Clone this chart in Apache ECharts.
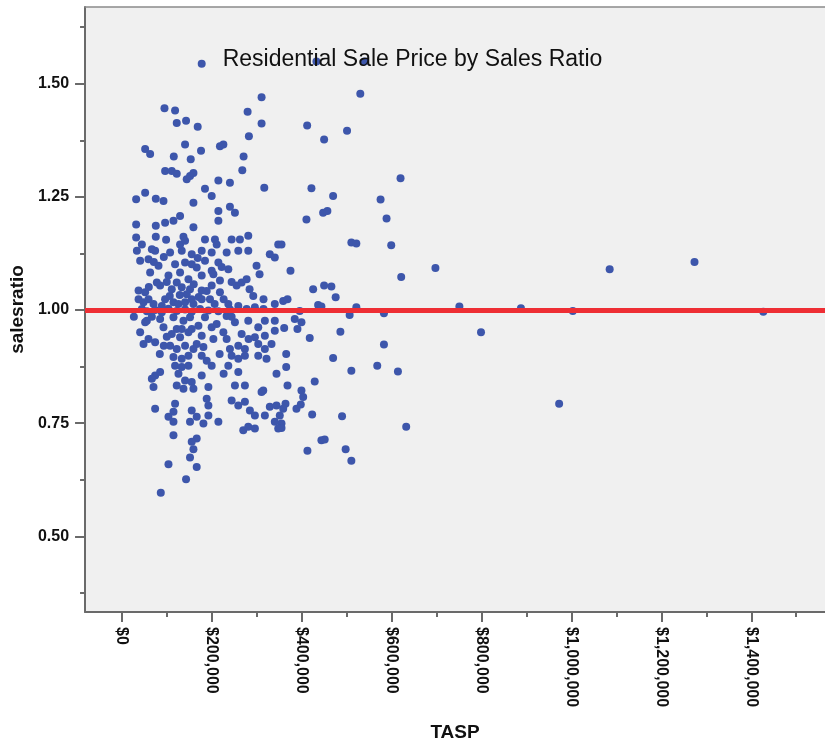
<!DOCTYPE html>
<html><head><meta charset="utf-8">
<script src="https://cdn.jsdelivr.net/npm/echarts@6/dist/echarts.min.js"></script>
<style>html,body{margin:0;padding:0;background:#fff}#c{width:825px;height:747px}</style>
</head><body><div id="c"></div><script>
// ---- data ----
const upperTasp = [177500, 94700, 118300, 122000, 142700, 168600, 279600, 310700, 310700, 282500,
  51700, 62800, 140500, 218100, 225700, 115400, 176000, 153100, 270700, 267800,
  316700, 96100, 111000, 122000, 144200, 151600, 159100, 214600, 240300, 184800,
  199700, 31700, 51700, 75400, 92500, 159100, 214600, 240300, 251400, 31700,
  75400, 96100, 114700, 129400, 159100, 214600, 31700, 75400, 98300, 136900,
  184800, 207000, 262500, 281100, 347700, 432700, 539900, 530300, 412100, 500800,
  449800, 619800, 421600, 469800, 575400, 447600, 457100, 410500, 588700];
const upperRatio = [1.544, 1.446, 1.441, 1.413, 1.418, 1.405, 1.438, 1.470, 1.412, 1.384,
  1.356, 1.345, 1.366, 1.362, 1.366, 1.339, 1.352, 1.333, 1.339, 1.309,
  1.270, 1.307, 1.307, 1.301, 1.289, 1.296, 1.303, 1.286, 1.281, 1.268,
  1.252, 1.245, 1.259, 1.246, 1.241, 1.237, 1.219, 1.228, 1.215, 1.189,
  1.186, 1.193, 1.197, 1.208, 1.183, 1.197, 1.160, 1.162, 1.155, 1.162,
  1.156, 1.156, 1.156, 1.164, 1.145, 1.549, 1.549, 1.478, 1.408, 1.396,
  1.377, 1.291, 1.269, 1.252, 1.244, 1.215, 1.219, 1.200, 1.202];
const outerTasp = [355000, 510400, 521500, 599100, 375000, 697400, 621300, 425400, 449800, 466000,
  475500, 358800, 368400, 436500, 443800, 395600, 521500, 750700, 887600, 506600,
  582900, 384500, 399400, 361000, 390500, 417800, 486000, 798800, 582900, 365500,
  469800, 365500, 510400, 568000, 614000, 368400, 428900, 399400, 403200, 363900,
  358800, 388300, 397900, 423200, 489700, 355000, 355000, 632400, 443800, 451100,
  972600, 412700, 497700, 510400, 1003000, 1085000, 1273700, 1426800];
const outerRatio = [1.145, 1.149, 1.147, 1.143, 1.087, 1.093, 1.073, 1.046, 1.054, 1.052,
  1.028, 1.020, 1.024, 1.011, 1.008, 0.998, 1.006, 1.008, 1.004, 0.989,
  0.993, 0.980, 0.973, 0.960, 0.958, 0.938, 0.952, 0.951, 0.924, 0.903,
  0.894, 0.874, 0.866, 0.877, 0.864, 0.833, 0.842, 0.822, 0.808, 0.793,
  0.782, 0.782, 0.791, 0.769, 0.765, 0.749, 0.739, 0.742, 0.712, 0.714,
  0.793, 0.689, 0.692, 0.667, 0.998, 1.090, 1.106, 0.996];
const coreTasp = [33300, 59200, 73900, 107200, 133100, 155300, 177500, 199700, 233000, 258900,
  281100, 329000, 340100, 81400, 118300, 140500, 166400, 184800, 214600, 236700,
  299500, 40600, 199700, 62800, 103600, 129400, 148000, 177500, 203500, 218100,
  255200, 266300, 277400, 37100, 51700, 85000, 122000, 133100, 151500, 177500,
  199700, 218100, 77700, 292200, 340100, 37100, 48100, 59200, 70300, 96100,
  114700, 125800, 140500, 159100, 177500, 195900, 236700, 258900, 295800, 44400,
  55500, 73900, 88800, 103600, 122000, 140500, 155300, 173700, 192400, 214600,
  240300, 85000, 114700, 136900, 151500, 184800, 233000, 251400, 281100, 318000,
  340100, 51700, 92500, 122000, 133100, 170200, 199700, 225700, 303300, 40600,
  59200, 73900, 110900, 129400, 148000, 177500, 203500, 266300, 295800, 318000,
  340100, 48100, 107200, 122000, 140500, 159100, 181300, 240300, 258900, 273600,
  303300, 318000, 114700, 133100, 148000, 177500, 199700, 244100, 258900, 273600,
  303300, 321700, 118300, 133100, 148000, 236700, 258900, 73900, 66600, 85000,
  125800, 140500, 155300, 177500, 122000, 136900, 159100, 192400, 273600, 314400,
  343900, 251400, 70300, 73900, 118300, 114700, 155300, 188600, 192400, 192400,
  244100, 258900, 273600, 284700, 295800, 329000, 343900, 310600, 103600, 114700,
  151500, 166400, 181300, 214600, 270000, 281100, 340100, 351200, 114700, 166400,
  155300, 295800, 347700, 318000, 159100, 151500, 103600, 166400, 142700, 86500,
  44400, 66600, 129400, 140500, 210800, 244100];
const coreRatio = [1.131, 1.112, 1.131, 1.127, 1.131, 1.123, 1.131, 1.127, 1.127, 1.131,
  1.131, 1.123, 1.116, 1.098, 1.101, 1.105, 1.094, 1.109, 1.105, 1.090,
  1.098, 1.109, 1.087, 1.083, 1.076, 1.083, 1.068, 1.076, 1.079, 1.065,
  1.054, 1.061, 1.068, 1.043, 1.039, 1.054, 1.061, 1.050, 1.046, 1.043,
  1.054, 1.039, 1.061, 1.031, 1.013, 1.024, 1.017, 1.024, 1.013, 1.024,
  1.017, 1.013, 1.017, 1.013, 1.024, 1.024, 1.013, 1.009, 1.006, 1.002,
  0.997, 1.000, 0.995, 1.003, 0.998, 1.001, 0.996, 1.002, 0.999, 0.997,
  1.001, 0.980, 0.984, 0.976, 0.984, 0.984, 0.987, 0.973, 0.976, 0.976,
  0.976, 0.973, 0.962, 0.958, 0.958, 0.965, 0.962, 0.951, 0.962, 0.951,
  0.936, 0.929, 0.947, 0.940, 0.951, 0.943, 0.936, 0.947, 0.940, 0.943,
  0.954, 0.925, 0.921, 0.914, 0.921, 0.914, 0.918, 0.914, 0.921, 0.914,
  0.925, 0.914, 0.896, 0.892, 0.899, 0.899, 0.877, 0.899, 0.892, 0.899,
  0.899, 0.892, 0.877, 0.874, 0.877, 0.877, 0.863, 0.855, 0.848, 0.863,
  0.859, 0.844, 0.841, 0.855, 0.833, 0.826, 0.826, 0.830, 0.833, 0.822,
  0.859, 0.833, 0.830, 0.782, 0.793, 0.775, 0.778, 0.804, 0.789, 0.767,
  0.800, 0.789, 0.797, 0.778, 0.767, 0.786, 0.789, 0.819, 0.764, 0.753,
  0.753, 0.764, 0.749, 0.753, 0.734, 0.742, 0.753, 0.767, 0.723, 0.716,
  0.709, 0.738, 0.738, 0.767, 0.692, 0.674, 0.659, 0.653, 0.626, 0.596,
  1.145, 1.134, 1.145, 1.153, 1.145, 1.156];
const denseTasp = [99800, 110900, 144200, 159800, 170800, 88800, 106500, 128700, 155300, 188600,
  206300, 226300, 210800, 155300, 99800, 84300, 93200, 166400, 188600, 217400,
  226300, 55500, 66600, 26600, 59900, 71000, 93200, 155300, 168600, 221900,
  244100, 284000, 306200, 315000, 281800, 332800, 233000, 244100, 277400, 315000];
const denseRatio = [1.062, 1.046, 1.035, 1.057, 1.029, 1.009, 1.031, 1.033, 1.024, 1.042,
  1.013, 1.024, 0.969, 0.958, 0.941, 0.903, 0.921, 0.925, 0.888, 0.903,
  0.859, 0.976, 0.985, 0.985, 1.051, 1.106, 1.117, 1.101, 1.115, 1.095,
  1.062, 1.046, 1.079, 1.024, 0.936, 0.925, 0.936, 0.985, 1.002, 1.002];
const xMajorTicks = [0, 200000, 400000, 600000, 800000, 1000000, 1200000, 1400000];
const xMinorTicks = [100000, 300000, 500000, 700000, 900000, 1100000, 1300000, 1500000];
const yMajorTicks = [0.5, 0.75, 1.0, 1.25, 1.5];
const yMinorTicks = [0.375, 0.625, 0.875, 1.125, 1.375, 1.625];
const referenceRatio = 1.0;
const xRange = [-82000, 1564000];
const yRange = [0.3326, 1.6696];

// ---- build ----
function pairs(xs, ys) { return xs.map((x, i) => [x, ys[i]]); }
const points = pairs(upperTasp, upperRatio).concat(
  pairs(outerTasp, outerRatio), pairs(coreTasp, coreRatio), pairs(denseTasp, denseRatio));
const FONT = 'Liberation Sans, Arial, sans-serif';
const axisCol = '#6a6a6a';
const money = v => '$' + Math.round(v).toLocaleString('en-US');

const chart = echarts.init(document.getElementById('c'), null, {renderer: 'canvas'});
chart.setOption({
  animation: false,
  backgroundColor: '#ffffff',
  title: {
    text: 'Residential Sale Price by Sales Ratio', left: 'center', top: 43,
    textStyle: {fontFamily: FONT, fontSize: 23, fontWeight: 'normal', color: '#111'}
  },
  grid: {left: 82, right: 0, top: 7, bottom: 133, show: true, backgroundColor: '#f0f0f0', borderWidth: 0},
  xAxis: [{
    type: 'value', min: xRange[0], max: xRange[1], position: 'bottom',
    name: 'TASP', nameLocation: 'middle', nameGap: 111,
    nameTextStyle: {fontFamily: FONT, fontSize: 19, fontWeight: 'bold', color: '#111'},
    axisLine: {show: true, onZero: false, lineStyle: {color: axisCol, width: 2}},
    axisTick: {show: true, customValues: xMajorTicks, length: 10, lineStyle: {color: axisCol, width: 2}},
    axisLabel: {show: true, customValues: xMajorTicks, rotate: -90, margin: 15, formatter: money,
      fontFamily: FONT, fontSize: 16, fontWeight: 'bold', color: '#111'},
    splitLine: {show: false}
  }, {
    type: 'value', min: xRange[0], max: xRange[1], position: 'bottom',
    axisLine: {show: false, onZero: false},
    axisTick: {show: true, customValues: xMinorTicks, length: 5, lineStyle: {color: axisCol, width: 2}},
    axisLabel: {show: false}, splitLine: {show: false}
  }, {
    type: 'value', min: xRange[0], max: xRange[1], position: 'top',
    axisLine: {show: true, onZero: false, lineStyle: {color: '#8a8a8a', width: 1.5}},
    axisTick: {show: false}, axisLabel: {show: false}, splitLine: {show: false}
  }],
  yAxis: [{
    type: 'value', min: yRange[0], max: yRange[1], position: 'left',
    name: 'salesratio', nameLocation: 'middle', nameGap: 55,
    nameTextStyle: {fontFamily: FONT, fontSize: 19, fontWeight: 'bold', color: '#111'},
    axisLine: {show: true, onZero: false, lineStyle: {color: axisCol, width: 2}},
    axisTick: {show: true, customValues: yMajorTicks, length: 10, lineStyle: {color: axisCol, width: 2}},
    axisLabel: {show: true, customValues: yMajorTicks, margin: 16, formatter: v => v.toFixed(2),
      fontFamily: FONT, fontSize: 16, fontWeight: 'bold', color: '#111'},
    splitLine: {show: false}
  }, {
    type: 'value', min: yRange[0], max: yRange[1], position: 'left',
    axisLine: {show: false, onZero: false},
    axisTick: {show: true, customValues: yMinorTicks, length: 5, lineStyle: {color: axisCol, width: 2}},
    axisLabel: {show: false}, splitLine: {show: false}
  }],
  series: [{
    type: 'scatter', xAxisIndex: 0, yAxisIndex: 0, data: points,
    symbol: 'circle', symbolSize: 8,
    itemStyle: {color: '#3d56ab', opacity: 1},
    markLine: {
      silent: true, symbol: 'none', label: {show: false},
      lineStyle: {color: '#ee2e34', width: 5, type: 'solid'},
      data: [{yAxis: referenceRatio}]
    }
  }]
});
</script></body></html>
